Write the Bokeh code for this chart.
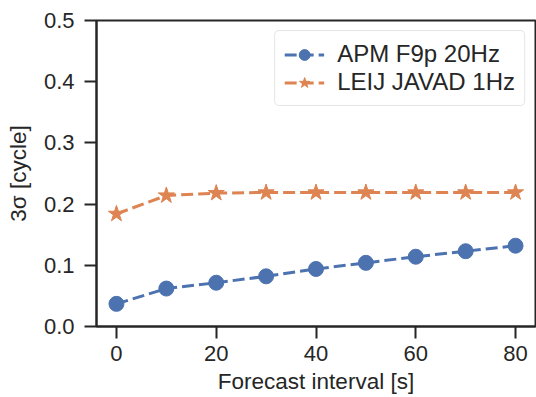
from bokeh.plotting import figure
from bokeh.models import FixedTicker, PrintfTickFormatter, Legend, LegendItem, ColumnDataSource
from bokeh.embed import file_html
from bokeh.resources import INLINE

# Data
forecast_interval = [0, 10, 20, 30, 40, 50, 60, 70, 80]
apm_f9p_20hz = [0.037, 0.062, 0.0715, 0.082, 0.094, 0.104, 0.114, 0.123, 0.132]
leij_javad_1hz = [0.184, 0.214, 0.218, 0.219, 0.219, 0.219, 0.219, 0.219, 0.219]
x_ticks = [0, 20, 40, 60, 80]
y_ticks = [0.0, 0.1, 0.2, 0.3, 0.4, 0.5]
series_labels = ["APM F9p 20Hz", "LEIJ JAVAD 1Hz"]

BLUE = "#4c72b0"
ORANGE = "#dd8452"
DARK = "#262626"
FONT = "Liberation Sans"

p = figure(width=536, height=397, x_range=(-4, 84), y_range=(0, 0.5),
           output_backend="svg", toolbar_location=None,
           min_border_left=96, min_border_right=1, min_border_top=20, min_border_bottom=71)
p.grid.visible = False
p.background_fill_color = "white"
p.border_fill_color = "white"
p.outline_line_color = DARK
p.outline_line_width = 2
p.outline_line_alpha = 1.0

for ax in (p.xaxis[0], p.yaxis[0]):
    ax.axis_line_color = DARK
    ax.axis_line_width = 2
    ax.major_tick_line_color = DARK
    ax.major_tick_line_width = 2
    ax.major_tick_out = 12
    ax.major_tick_in = 0
    ax.minor_tick_line_color = None
    ax.major_label_text_font = FONT
    ax.major_label_text_color = DARK
    ax.major_label_text_font_size = "22px"
    ax.axis_label_text_font = FONT
    ax.axis_label_text_color = DARK
    ax.axis_label_text_font_size = "22.5px"
    ax.axis_label_text_font_style = "normal"

p.xaxis.ticker = FixedTicker(ticks=x_ticks)
p.yaxis.ticker = FixedTicker(ticks=y_ticks)
p.yaxis.formatter = PrintfTickFormatter(format="%.1f")
p.xaxis.axis_label = "Forecast interval [s]"
p.yaxis.axis_label = "3σ [cycle]"
p.xaxis.major_label_standoff = 7
p.xaxis.axis_label_standoff = 5
p.yaxis.major_label_standoff = 10
p.yaxis.axis_label_standoff = 10

src = ColumnDataSource(dict(x=forecast_interval, a=apm_f9p_20hz, b=leij_javad_1hz))

l1 = p.line("x", "a", source=src, line_color=BLUE, line_width=3, line_dash="12 5")
s1 = p.scatter("x", "a", source=src, marker="circle", size=15, fill_color=BLUE, line_color=BLUE)
l2 = p.line("x", "b", source=src, line_color=ORANGE, line_width=3, line_dash="12 5")
s2 = p.scatter("x", "b", source=src, marker="star", size=17, fill_color=ORANGE, line_color=ORANGE)

legend = Legend(items=[LegendItem(label=series_labels[0], renderers=[l1, s1]),
                       LegendItem(label=series_labels[1], renderers=[l2, s2])],
                location="top_right", margin=10, padding=9, spacing=0,
                glyph_width=40, glyph_height=27, label_height=27, label_standoff=13,
                label_text_font=FONT, label_text_font_size="24px", label_text_color=DARK,
                border_line_color="#cccccc", border_line_width=1.5,
                background_fill_color="white", background_fill_alpha=1.0)
if "border_radius" in Legend.properties():
    legend.border_radius = 5
p.add_layout(legend)

open("out.html", "w").write(file_html(p, INLINE))
